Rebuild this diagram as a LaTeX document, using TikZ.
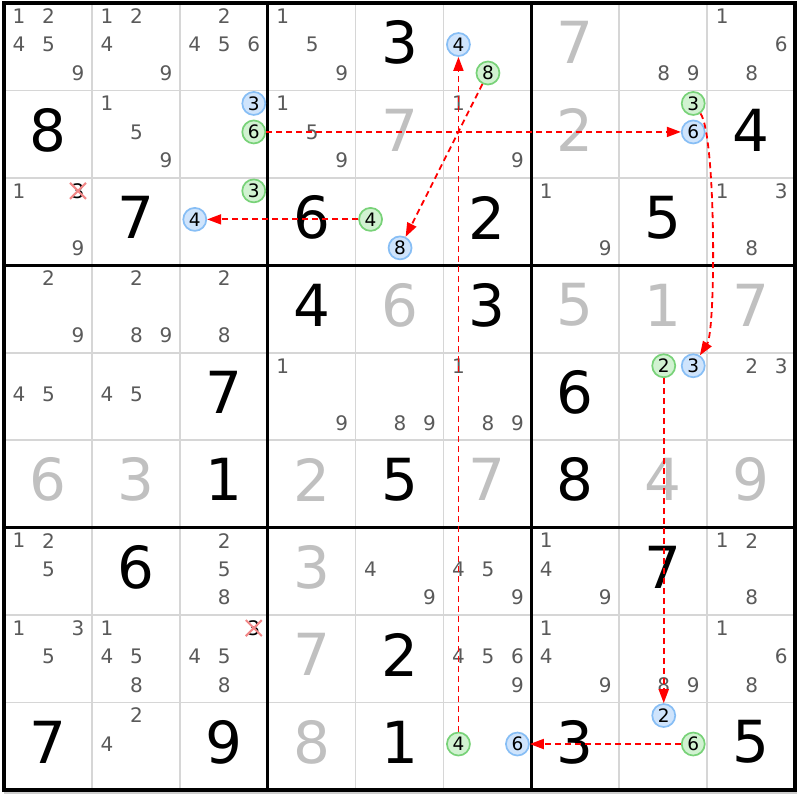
\documentclass[tikz,border=0pt]{standalone}
\usepackage{fontspec}
\setmainfont{DejaVu Sans}
\usetikzlibrary{arrows.meta}
\definecolor{candc}{RGB}{90,90,90}
\definecolor{solvc}{RGB}{192,192,192}
\definecolor{thinc}{RGB}{214,214,214}
\definecolor{bluefill}{RGB}{207,228,252}
\definecolor{bluedraw}{RGB}{135,190,245}
\definecolor{greenfill}{RGB}{209,242,209}
\definecolor{greendraw}{RGB}{120,210,120}
\definecolor{arrc}{RGB}{255,0,0}
\definecolor{crossc}{RGB}{242,135,135}
\definecolor{shadowc}{RGB}{205,205,205}
\tikzset{
 candst/.style={inner sep=0pt, text=candc, font=\fontsize{20}{20}\selectfont},
 givenst/.style={inner sep=0pt, text=black, font=\fontsize{58}{58}\selectfont},
 solvedst/.style={givenst, text=solvc},
 bst/.style={circle, minimum size=23pt, inner sep=0pt, draw=bluedraw, fill=bluefill, line width=1.7pt, text=black, font=\fontsize{18.5}{18.5}\selectfont},
 gst/.style={bst, draw=greendraw, fill=greenfill},
 xcand/.style={candst, text=black},
 crossline/.style={draw=crossc, line width=2pt},
 thinline/.style={draw=thinc, line width=1.6pt},
 boxline/.style={draw=black, line width=3pt},
 outerline/.style={draw=black, line width=3.5pt},
 arr/.style={draw=arrc, line width=1.8pt, dash pattern=on 6pt off 4pt, -{Triangle[length=14pt,width=10pt]}},
}
\newcommand\cellxy[2]{\pgfmathsetmacro\cx{4+(#2-1)*87.89}\pgfmathsetmacro\cy{3+(#1-1)*87.44}}
\newcommand\candpos[1]{\pgfmathsetmacro\px{\cx+15+mod(#1-1,3)*29.5}\pgfmathsetmacro\py{\cy+13+floor((#1-1)/3)*28.5}}
\newcommand\cands[3]{\cellxy{#1}{#2}\foreach \d in {#3}{\candpos{\d}\node[candst] (k#1#2\d) at (\px,\py) {\d};}}
\newcommand\given[3]{\cellxy{#1}{#2}\node[givenst] (v#1#2) at ({\cx+43.95},{\cy+39.6}) {#3};}
\newcommand\solved[3]{\cellxy{#1}{#2}\node[solvedst] (v#1#2) at ({\cx+43.95},{\cy+39.6}) {#3};}
\newcommand\circm[4]{\cellxy{#2}{#3}\candpos{#4}\node[#1st] (#1#2#3#4) at (\px,\py) {#4};}
\newcommand\crossed[3]{\cellxy{#1}{#2}\candpos{#3}\node[xcand] (x#1#2#3) at (\px,\py) {#3};
 \draw[crossline] ([shift={(-8,-8)}]x#1#2#3.center) -- ([shift={(8,8)}]x#1#2#3.center);
 \draw[crossline] ([shift={(-8,8)}]x#1#2#3.center) -- ([shift={(8,-8)}]x#1#2#3.center);}
\begin{document}
\begin{tikzpicture}[x=1pt,y=-1pt]
\useasboundingbox[fill=white] (0,0) rectangle (800,800);
% grid
\foreach \i in {1,2,4,5,7,8}{
 \draw[thinline] ({4+\i*87.89},3) -- ({4+\i*87.89},790);
 \draw[thinline] (4,{3+\i*87.44}) -- (795,{3+\i*87.44});
}
\draw[shadowc, line width=1.5pt] (4,793) -- (797,793);
\foreach \i in {3,6}{
 \draw[boxline] ({4+\i*87.89},3) -- ({4+\i*87.89},790);
 \draw[boxline] (4,{3+\i*87.44}) -- (795,{3+\i*87.44});
}
\draw[outerline] (4,3) rectangle (795,790);
% row 1
\cands{1}{1}{1,2,4,5,9}
\cands{1}{2}{1,2,4,9}
\cands{1}{3}{2,4,5,6}
\cands{1}{4}{1,5,9}
\given{1}{5}{3}
\circm{b}{1}{6}{4}
\circm{g}{1}{6}{8}
\solved{1}{7}{7}
\cands{1}{8}{8,9}
\cands{1}{9}{1,6,8}
% row 2
\given{2}{1}{8}
\cands{2}{2}{1,5,9}
\circm{b}{2}{3}{3}
\circm{g}{2}{3}{6}
\cands{2}{4}{1,5,9}
\solved{2}{5}{7}
\cands{2}{6}{1,9}
\solved{2}{7}{2}
\circm{g}{2}{8}{3}
\circm{b}{2}{8}{6}
\given{2}{9}{4}
% row 3
\cands{3}{1}{1,9}
\crossed{3}{1}{3}
\given{3}{2}{7}
\circm{g}{3}{3}{3}
\circm{b}{3}{3}{4}
\given{3}{4}{6}
\circm{g}{3}{5}{4}
\circm{b}{3}{5}{8}
\given{3}{6}{2}
\cands{3}{7}{1,9}
\given{3}{8}{5}
\cands{3}{9}{1,3,8}
% row 4
\cands{4}{1}{2,9}
\cands{4}{2}{2,8,9}
\cands{4}{3}{2,8}
\given{4}{4}{4}
\solved{4}{5}{6}
\given{4}{6}{3}
\solved{4}{7}{5}
\solved{4}{8}{1}
\solved{4}{9}{7}
% row 5
\cands{5}{1}{4,5}
\cands{5}{2}{4,5}
\given{5}{3}{7}
\cands{5}{4}{1,9}
\cands{5}{5}{8,9}
\cands{5}{6}{1,8,9}
\given{5}{7}{6}
\circm{g}{5}{8}{2}
\circm{b}{5}{8}{3}
\cands{5}{9}{2,3}
% row 6
\solved{6}{1}{6}
\solved{6}{2}{3}
\given{6}{3}{1}
\solved{6}{4}{2}
\given{6}{5}{5}
\solved{6}{6}{7}
\given{6}{7}{8}
\solved{6}{8}{4}
\solved{6}{9}{9}
% row 7
\cands{7}{1}{1,2,5}
\given{7}{2}{6}
\cands{7}{3}{2,5,8}
\solved{7}{4}{3}
\cands{7}{5}{4,9}
\cands{7}{6}{4,5,9}
\cands{7}{7}{1,4,9}
\given{7}{8}{7}
\cands{7}{9}{1,2,8}
% row 8
\cands{8}{1}{1,3,5}
\cands{8}{2}{1,4,5,8}
\cands{8}{3}{4,5,8}
\crossed{8}{3}{3}
\solved{8}{4}{7}
\given{8}{5}{2}
\cands{8}{6}{4,5,6,9}
\cands{8}{7}{1,4,9}
\cands{8}{8}{8,9}
\cands{8}{9}{1,6,8}
% row 9
\given{9}{1}{7}
\cands{9}{2}{2,4}
\given{9}{3}{9}
\solved{9}{4}{8}
\given{9}{5}{1}
\circm{g}{9}{6}{4}
\circm{b}{9}{6}{6}
\given{9}{7}{3}
\circm{b}{9}{8}{2}
\circm{g}{9}{8}{6}
\given{9}{9}{5}
% chain
\draw[arr] (g236) -- (b286);
\draw[arr] (g283) .. controls (716,135) and (716,330) .. (b583);
\draw[arr] (g582) -- (b982);
\draw[arr] (g986) -- (b966);
\draw[arr] (g964) -- (b164);
\draw[arr] (g168) -- (b358);
\draw[arr] (g354) -- (b334);
\end{tikzpicture}
\end{document}
